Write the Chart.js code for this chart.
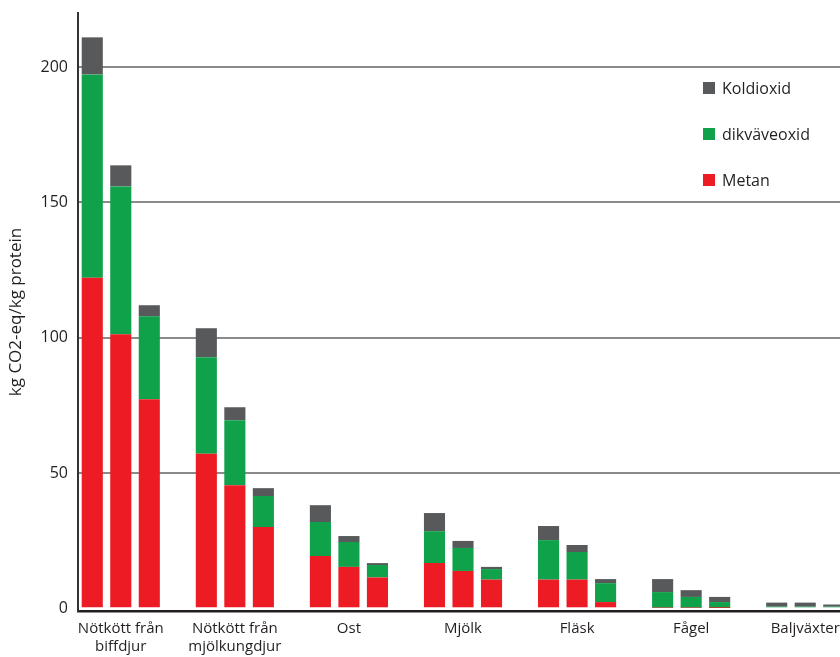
<!DOCTYPE html>
<html lang="sv">
<head>
    <meta charset="UTF-8">
    <title>Växthusgaser per kg protein</title>
    <script src="https://cdn.jsdelivr.net/npm/chart.js"></script>
    <style>
        html, body {
            margin: 0;
            padding: 0;
            overflow: hidden;
            background: #fff;
            font-family: "Open Sans", sans-serif;
        }

        .wrap {
            position: relative;
            width: 848px;
            height: 657px;
        }

        /* Legend */
        .legend {
            position: absolute;
            left: 703px;
            top: 78px;
            color: #231f20;
            font-size: 16px;
        }

        .legend-item {
            display: flex;
            align-items: center;
            height: 20px;
            margin-bottom: 26px;
        }

        .legend-item span {
            width: 12px;
            height: 12px;
            margin-right: 7px;
        }
    </style>
</head>
<body>

    <div class="wrap">
        <canvas id="gasChart"></canvas>
        <div class="legend" id="legend"></div>
    </div>

    <script>
        // product groups, label sits under the middle bar of each group
        const groups = [
            ['Nötkött från', 'biffdjur'],
            ['Nötkött från', 'mjölkungdjur'],
            'Ost', 'Mjölk', 'Fläsk', 'Fågel', 'Baljväxter'
        ];

        const yTicks = [0, 50, 100, 150, 200];

        // three bars per group, kg CO2-eq/kg protein
        const metan = [122.2, 101.3, 77.3, 57.1, 45.5, 30.0, 19.3, 15.3, 11.4, 16.7, 13.8, 10.6,
            10.6, 10.6, 2.3, 0.2, 0.2, 0.1, 0, 0, 0];
        const dikvaveoxid = [75.1, 54.6, 30.6, 35.7, 24.0, 11.5, 12.6, 9.2, 4.6, 11.8, 8.5, 3.9,
            14.6, 10.2, 7.0, 5.8, 4.0, 2.2, 0.6, 0.6, 0.6];
        const koldioxid = [13.7, 7.8, 4.1, 10.7, 4.8, 2.9, 6.2, 2.2, 0.7, 6.7, 2.6, 0.8,
            5.2, 2.6, 1.5, 4.8, 2.5, 1.9, 1.5, 1.5, 0.8];

        const seriesNames = ['Koldioxid', 'dikväveoxid', 'Metan'];
        const seriesColors = ['#58595b', '#10a14b', '#ed1c24'];

        // 3 bars + one empty slot per group
        function withGaps(values) {
            const out = [];
            values.forEach((v, i) => {
                out.push(v);
                if (i % 3 === 2 && i < values.length - 1) out.push(null);
            });
            return out;
        }

        const slotLabels = [];
        groups.forEach((g, i) => {
            slotLabels.push('', g, '');
            if (i < groups.length - 1) slotLabels.push('');
        });

        const textColor = '#231f20';
        const font = { family: '"Open Sans", sans-serif', size: 15 };

        const ctx = document.getElementById('gasChart').getContext('2d');
        new Chart(ctx, {
            type: 'bar',
            data: {
                labels: slotLabels,
                datasets: [
                    { label: seriesNames[2], data: withGaps(metan), backgroundColor: seriesColors[2] },
                    { label: seriesNames[1], data: withGaps(dikvaveoxid), backgroundColor: seriesColors[1] },
                    { label: seriesNames[0], data: withGaps(koldioxid), backgroundColor: seriesColors[0] }
                ]
            },
            options: {
                responsive: true,
                maintainAspectRatio: false,
                animation: false,
                layout: { padding: { top: 13, right: 0, bottom: 0, left: 0 } },
                datasets: { bar: { categoryPercentage: 1, barPercentage: 0.74, borderWidth: 0 } },
                plugins: { legend: { display: false }, tooltip: { enabled: false } },
                scales: {
                    x: {
                        stacked: true,
                        grid: { display: false, drawTicks: false },
                        border: { color: '#231f20', width: 2.5 },
                        ticks: {
                            color: textColor, font: font, autoSkip: false,
                            maxRotation: 0, minRotation: 0, padding: 9
                        },
                        afterFit: scale => { scale.height = 46; }
                    },
                    y: {
                        stacked: true,
                        min: -1,
                        max: 220,
                        afterBuildTicks: scale => { scale.ticks = yTicks.map(v => ({ value: v })); },
                        grid: {
                            color: c => c.tick && c.tick.value === 0 ? 'rgba(0,0,0,0)' : '#8a8a8a',
                            lineWidth: 2,
                            drawTicks: false
                        },
                        border: { color: '#333333', width: 2 },
                        ticks: { color: textColor, font: { family: font.family, size: 16 }, padding: 10 },
                        title: {
                            display: true,
                            text: 'kg CO2-eq/kg protein',
                            color: textColor,
                            font: { family: font.family, size: 17 },
                            padding: { top: 6, bottom: 0 }
                        },
                        afterFit: scale => {
                            scale.width = 78;
                            scale.paddingTop = 0;
                            scale.paddingBottom = 0;
                        }
                    }
                }
            }
        });

        // legend, same order as the reference
        const legend = document.getElementById('legend');
        seriesNames.forEach((name, i) => {
            const item = document.createElement('div');
            item.className = 'legend-item';
            const box = document.createElement('span');
            box.style.background = seriesColors[i];
            item.appendChild(box);
            item.appendChild(document.createTextNode(name));
            legend.appendChild(item);
        });
    </script>

</body>
</html>
